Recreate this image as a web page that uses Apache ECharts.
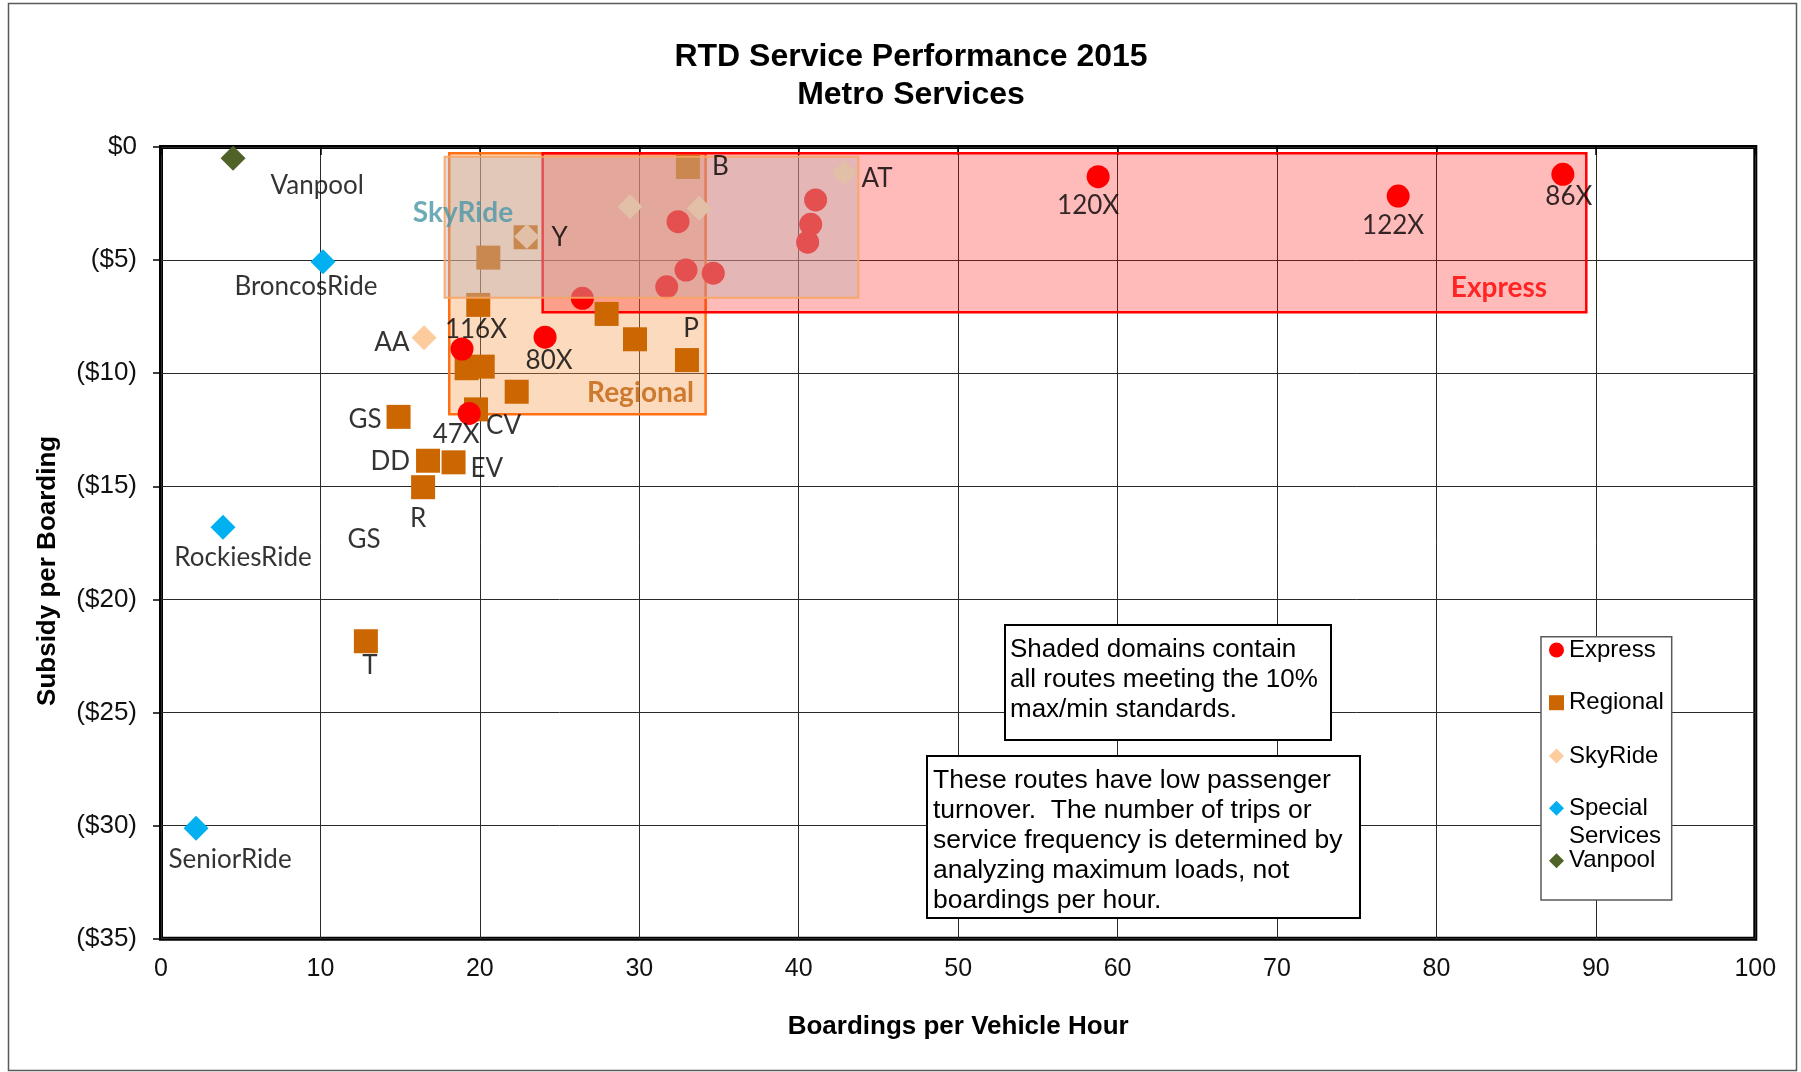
<!DOCTYPE html>
<html><head><meta charset="utf-8">
<script src="https://cdn.jsdelivr.net/npm/echarts@6/dist/echarts.min.js"></script>
<style>html,body{margin:0;padding:0;background:#fff}#chart{width:1801px;height:1072px}</style>
</head><body><div id="chart"></div>
<script>
// ---------------- data ----------------
const titleText = 'RTD Service Performance 2015\nMetro Services';
const xAxisName = 'Boardings per Vehicle Hour';
const yAxisName = 'Subsidy per Boarding';
const xMin = 0, xMax = 100, xStep = 10;
const yMin = -35, yMax = 0, yStep = 5;

const expressX = [58.78, 77.6, 87.93, 41.06, 40.75, 40.56, 32.43, 32.93, 34.64, 31.72, 26.43, 24.09, 18.88, 19.33];
const expressY = [-1.31, -2.17, -1.21, -2.34, -3.42, -4.21, -3.3, -5.44, -5.58, -6.18, -6.69, -8.41, -8.93, -11.78];
const expressLabels = ['120X', '122X', '86X', '', '', '', '', '', '', '', '', '80X', '116X', '47X'];

const regionalX = [33.05, 22.87, 20.53, 19.9, 27.95, 29.73, 32.99, 19.17, 20.18, 22.31, 19.76, 14.9, 16.75, 18.35, 16.44, 12.85];
const regionalY = [-0.88, -3.99, -4.89, -6.98, -7.38, -8.5, -9.42, -9.78, -9.71, -10.82, -11.6, -11.93, -13.87, -13.94, -15.04, -21.85];
const regionalLabels = ['B', 'Y', '', '', '', '', 'P', '', '', '', 'CV', 'GS', 'DD', 'EV', 'R', 'T'];

const skyRideX = [16.5, 22.94, 29.42, 33.76, 42.84];
const skyRideY = [-8.43, -3.96, -2.64, -2.71, -1.14];
const skyRideLabels = ['AA', '', '', '', 'AT'];

const specialX = [10.16, 3.89, 2.2];
const specialY = [-5.07, -16.81, -30.12];
const specialLabels = ['BroncosRide', 'RockiesRide', 'SeniorRide'];

const vanpoolX = [4.52];
const vanpoolY = [-0.5];
const vanpoolLabels = ['Vanpool'];

// shaded domains [x0, y0, x1, y1]
const regionalBox = [18.08, -0.28, 34.16, -11.82];
const expressBox = [23.94, -0.28, 89.4, -7.3];
const skyRideBox = [17.79, -0.43, 43.74, -6.66];

// domain names and a stray label, anchored in data coordinates
const domainNames = ['SkyRide', 'Regional', 'Express'];
const domainX = [18.94, 30.08, 83.92];
const domainY = [-2.9, -10.89, -6.25];
const strayLabels = ['GS'];
const strayX = [12.73];
const strayY = [-17.37];

const legendNames = ['Express', 'Regional', 'SkyRide', 'Special Services', 'Vanpool'];
const note1 = 'Shaded domains contain\nall routes meeting the 10%\nmax/min standards.';
const note2 = 'These routes have low passenger\nturnover.  The number of trips or\nservice frequency is determined by\nanalyzing maximum loads, not\nboardings per hour.';

// ---------------- styles / layout ----------------
const ARIAL = '"Liberation Sans", Arial, sans-serif';
const CAL = 'Lato, "Liberation Sans", sans-serif';
const labelPlace = {
  'Vanpool': ['right', [20, 27]],
  'BroncosRide': ['bottom', [-17, -6]],
  'RockiesRide': ['bottom', [20, 0]],
  'SeniorRide': ['bottom', [34, 1]],
  'B': ['right', [7, 0]],
  'AT': ['right', [0, 6]],
  'Y': ['right', [9, 0]],
  '120X': ['bottom', [-10, -1]],
  '122X': ['bottom', [-5, 0]],
  '86X': ['bottom', [6, -7]],
  '116X': ['top', [14, 10]],
  'AA': ['left', [3, 5]],
  '80X': ['bottom', [4, -6]],
  'P': ['top', [4, -1]],
  'GS': ['left', [0, 3]],
  '47X': ['bottom', [-13, -8]],
  'CV': ['right', [-7, 16]],
  'DD': ['left', [-1, 1]],
  'EV': ['right', [0, 6]],
  'R': ['bottom', [-5, 1]],
  'T': ['bottom', [4, -6]]
};
const domainColors = ['#4A96A8', '#C0600A', '#FF0000'];
const TRANSPARENT = 'rgba(0,0,0,0)';

function points(xs, ys, labels) {
  return xs.map((x, i) => {
    const lbl = labels[i];
    const item = { value: [x, ys[i]], name: lbl };
    if (lbl && labelPlace[lbl]) {
      item.label = { show: true, position: labelPlace[lbl][0], offset: labelPlace[lbl][1] };
    }
    return item;
  });
}

function scatter(name, xs, ys, symbol, size, color) {
  return {
    name, type: 'scatter', symbol, symbolSize: size, z: 2, silent: true,
    itemStyle: { color, opacity: 1 },
    label: { show: false },
    emphasis: { disabled: true },
    data: xs.map((x, i) => [x, ys[i]])
  };
}
// point labels drawn above the shaded domains, anchored on the same points
function labelLayer(xs, ys, labels, symbol, size) {
  return {
    type: 'scatter', symbol, symbolSize: size, z: 4, silent: true,
    itemStyle: { color: TRANSPARENT },
    label: { show: false, formatter: '{b}', fontFamily: CAL, fontSize: 26, color: '#000', distance: 5, textBorderWidth: 0 },
    emphasis: { disabled: true },
    data: points(xs, ys, labels)
  };
}

function boxSeries(name, box, fill, stroke, lw, z) {
  return {
    name, type: 'custom', z, silent: true,
    encode: { x: [0, 2], y: [1, 3] },
    data: [box],
    renderItem: function (params, api) {
      const a = api.coord([api.value(0), api.value(1)]);
      const b = api.coord([api.value(2), api.value(3)]);
      return {
        type: 'rect',
        shape: { x: Math.min(a[0], b[0]), y: Math.min(a[1], b[1]), width: Math.abs(b[0] - a[0]), height: Math.abs(b[1] - a[1]) },
        style: { fill, stroke, lineWidth: lw }
      };
    }
  };
}

const legendCenters = [650, 702.7, 756, 808.3, 860.7];
const legends = legendNames.map((n, i) => {
  const two = n === 'Special Services';
  return {
    data: [n], orient: 'vertical', left: 1549, top: legendCenters[i] - (two ? 42 : 14),
    padding: 0, itemWidth: 15, itemHeight: 15, selectedMode: false, z: 10,
    formatter: two ? ' \nSpecial\nServices' : '{name}',
    textStyle: { fontFamily: ARIAL, fontSize: 24, color: '#000', lineHeight: 28 }
  };
});

const chart = echarts.init(document.getElementById('chart'), null, { renderer: 'canvas' });
chart.setOption({
  backgroundColor: '#fff',
  animation: false,
  title: {
    text: titleText, left: 906, top: 33, textAlign: 'center',
    textStyle: { fontFamily: ARIAL, fontSize: 32, fontWeight: 'bold', color: '#000', lineHeight: 38 }
  },
  legend: legends,
  grid: {
    left: 161, top: 147, width: 1594.3, height: 791.7, show: true,
    borderColor: '#000', borderWidth: 4, backgroundColor: 'transparent',
    containLabel: false, outerBoundsMode: 'none'
  },
  xAxis: {
    type: 'value', min: xMin, max: xMax, interval: xStep,
    name: xAxisName, nameLocation: 'middle', nameGap: 75,
    nameTextStyle: { fontFamily: ARIAL, fontSize: 26, fontWeight: 'bold', color: '#000' },
    axisLine: { show: false },
    axisTick: { show: true, length: 8, lineStyle: { color: '#000', width: 1.5 } },
    axisLabel: { fontFamily: ARIAL, fontSize: 25, color: '#111', margin: 18 },
    splitLine: { show: true, lineStyle: { color: '#2a2a2a', width: 1 } }
  },
  yAxis: {
    type: 'value', min: yMin, max: yMax, interval: yStep,
    name: yAxisName, nameLocation: 'middle', nameGap: 100,
    nameTextStyle: { fontFamily: ARIAL, fontSize: 26, fontWeight: 'bold', color: '#000', padding: [0, 56, 0, 0] },
    axisLine: { show: false },
    axisTick: { show: true, length: 8, lineStyle: { color: '#000', width: 1.5 } },
    axisLabel: {
      fontFamily: ARIAL, fontSize: 26, color: '#111', margin: 24,
      formatter: v => v === 0 ? '$0' : '($' + (-v) + ')'
    },
    splitLine: { show: true, lineStyle: { color: '#2a2a2a', width: 1 } }
  },
  series: [
    boxSeries('regionalBox', regionalBox, 'rgba(247,150,70,0.35)', '#FF7014', 2.5, 1),
    boxSeries('expressBox', expressBox, 'rgba(255,0,0,0.27)', '#FF0000', 2.5, 1),
    scatter('Regional', regionalX, regionalY, 'rect', 24, '#CC6600'),
    scatter('Express', expressX, expressY, 'circle', 23, '#FF0000'),
    scatter('SkyRide', skyRideX, skyRideY, 'diamond', 25, '#FCCB9E'),
    scatter('Special Services', specialX, specialY, 'diamond', 25, '#00B0F0'),
    scatter('Vanpool', vanpoolX, vanpoolY, 'diamond', 25, '#4F6228'),
    boxSeries('skyRideBox', skyRideBox, 'rgba(195,178,178,0.45)', 'rgba(248,165,100,0.9)', 2, 3),
    labelLayer(regionalX, regionalY, regionalLabels, 'rect', 24),
    labelLayer(expressX, expressY, expressLabels, 'circle', 23),
    labelLayer(skyRideX, skyRideY, skyRideLabels, 'diamond', 25),
    labelLayer(specialX, specialY, specialLabels, 'diamond', 25),
    labelLayer(vanpoolX, vanpoolY, vanpoolLabels, 'diamond', 25),
    {
      name: 'domainLabels', type: 'scatter', symbolSize: 1, z: 4, silent: true,
      itemStyle: { color: TRANSPARENT }, emphasis: { disabled: true },
      label: { show: true, position: 'inside', formatter: '{b}', fontFamily: CAL, fontSize: 28, fontWeight: 'bold', textBorderWidth: 0 },
      data: domainNames.map((n, i) => ({ value: [domainX[i], domainY[i]], name: n, label: { color: domainColors[i] } }))
        .concat(strayLabels.map((n, i) => ({ value: [strayX[i], strayY[i]], name: n, label: { color: '#000', fontWeight: 'normal', fontSize: 26 } })))
    }
  ],
  graphic: [
    { type: 'rect', z: 0, silent: true, shape: { x: 8.5, y: 3.5, width: 1788, height: 1067 }, style: { fill: 'none', stroke: '#595959', lineWidth: 1.5 } },
    { type: 'rect', z: 5, silent: true, shape: { x: 1541, y: 636.7, width: 130.7, height: 263.3 }, style: { fill: '#fff', stroke: '#595959', lineWidth: 1.5 } },
    { type: 'rect', z: 5, silent: true, shape: { x: 1005, y: 625, width: 326, height: 115 }, style: { fill: '#fff', stroke: '#000', lineWidth: 2 } },
    { type: 'text', z: 6, silent: true, x: 1010, y: 635, style: { text: note1, fontFamily: ARIAL, fontSize: 26, lineHeight: 30, fill: '#000' } },
    { type: 'rect', z: 5, silent: true, shape: { x: 927, y: 756, width: 433, height: 162 }, style: { fill: '#fff', stroke: '#000', lineWidth: 2 } },
    { type: 'text', z: 6, silent: true, x: 933, y: 766, style: { text: note2, fontFamily: ARIAL, fontSize: 26.5, lineHeight: 30, fill: '#000' } }
  ]
});
</script>
</body></html>
